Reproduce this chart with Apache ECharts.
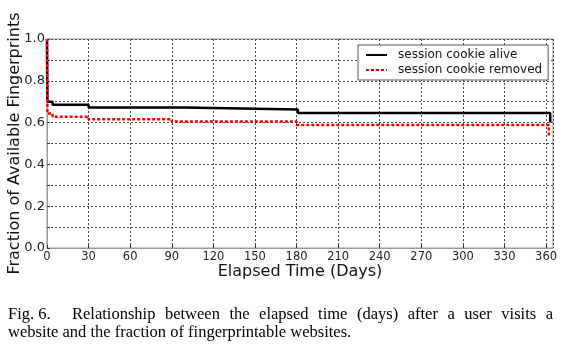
<!DOCTYPE html>
<html>
<head>
<meta charset="utf-8">
<script src="https://cdn.jsdelivr.net/npm/echarts@6/dist/echarts.min.js"></script>
<style>
html,body{margin:0;padding:0;background:#fff;}
#c{width:562px;height:349px;}
</style>
</head>
<body>
<div id="c"></div>
<script>
// Data
const aliveDays = [0, 0.3, 4, 30, 99, 181, 363];
const aliveFrac = [1.0, 0.700, 0.685, 0.672, 0.663, 0.646, 0.600];
const removedDays = [0, 0.3, 4, 30, 90, 180, 362];
const removedFrac = [1.0, 0.644, 0.628, 0.616, 0.605, 0.588, 0.533];
const seriesNames = ['session cookie alive', 'session cookie removed'];
const xTitle = 'Elapsed Time (Days)';
const yTitle = 'Fraction of Available Fingerprints';
const captionLead = 'Fig. 6.';
const captionLine1 = 'Relationship between the elapsed time (days) after a user visits a';
const captionLine2 = 'website and the fraction of fingerprintable websites.';

const chart = echarts.init(document.getElementById('c'), null, {renderer: 'canvas'});

const zip = (xs, ys) => xs.map((x, i) => [x, ys[i]]);

// justify caption line 1
const capFont = '16.5px "Liberation Serif"';
const cv = document.createElement('canvas').getContext('2d');
cv.font = capFont;
const words = captionLine1.split(' ');
const widths = words.map(w => cv.measureText(w).width);
const startX = 72, endX = 553;
const total = widths.reduce((a, b) => a + b, 0);
const gap = (endX - startX - total) / (words.length - 1);
const captionEls = [];
let cx = startX;
words.forEach((w, i) => {
  captionEls.push({type: 'text', left: cx, top: 306, style: {text: w, font: capFont, fill: '#000'}});
  cx += widths[i] + gap;
});
captionEls.push({type: 'text', left: 8, top: 306, style: {text: captionLead, font: capFont, fill: '#000'}});
captionEls.push({type: 'text', left: 8, top: 324, style: {text: captionLine2, font: capFont, fill: '#000'}});

const gridLine = {show: true, lineStyle: {color: '#444', width: 1, type: [2, 2]}};

chart.setOption({
  animation: false,
  backgroundColor: '#fff',
  grid: {left: 47, right: 9, top: 39, bottom: 101, outerBoundsMode: 'none', containLabel: false,
    show: true, borderColor: '#999', borderWidth: 1, backgroundColor: 'transparent'},
  legend: {
    orient: 'vertical', left: 358, top: 45,
    padding: [4, 6, 4, 7], itemGap: 3, itemWidth: 21, itemHeight: 14,
    borderColor: '#555', borderWidth: 1, backgroundColor: '#fff', borderRadius: 0,
    itemStyle: {opacity: 0},
    textStyle: {fontFamily: 'DejaVu Sans', fontSize: 12, color: '#111', padding: [0, 0, 0, 6]},
    data: seriesNames
  },
  xAxis: {
    type: 'value', min: 0, max: 365, interval: 30,
    name: xTitle, nameLocation: 'middle', nameGap: 16, nameMoveOverlap: false,
    nameTextStyle: {fontFamily: 'DejaVu Sans', fontSize: 16, color: '#111'},
    axisLine: {show: true, lineStyle: {color: '#999'}},
    axisTick: {show: true, inside: true, length: 3, lineStyle: {color: '#333'}},
    axisLabel: {fontFamily: 'DejaVu Sans', fontSize: 11.5, color: '#222', margin: 3, showMaxLabel: false,
      formatter: v => (v % 30 === 0 ? String(v) : '')},
    splitLine: gridLine
  },
  yAxis: {
    type: 'value', min: 0, max: 1, interval: 0.1,
    name: yTitle, nameLocation: 'middle', nameGap: 24, nameMoveOverlap: false,
    nameTextStyle: {fontFamily: 'DejaVu Sans', fontSize: 16, color: '#111'},
    axisLine: {show: true, lineStyle: {color: '#999'}},
    axisTick: {show: true, inside: true, length: 3, lineStyle: {color: '#333'}},
    axisLabel: {fontFamily: 'DejaVu Sans', fontSize: 13, color: '#222', margin: 2,
      formatter: v => (Math.round(v * 10) % 2 === 0 ? v.toFixed(1) : '')},
    splitLine: gridLine
  },
  series: [
    {
      name: seriesNames[0], type: 'line', step: 'end', symbol: 'none', clip: false,
      data: zip(aliveDays, aliveFrac),
      lineStyle: {color: '#000', width: 2.5}, itemStyle: {color: '#000'}, z: 3
    },
    {
      name: seriesNames[1], type: 'line', step: 'end', symbol: 'none', clip: false,
      data: zip(removedDays, removedFrac),
      lineStyle: {color: '#ff0000', width: 2.5, type: [3, 2]}, itemStyle: {color: '#ff0000'}, z: 4
    }
  ],
  graphic: captionEls
});
</script>
</body>
</html>
